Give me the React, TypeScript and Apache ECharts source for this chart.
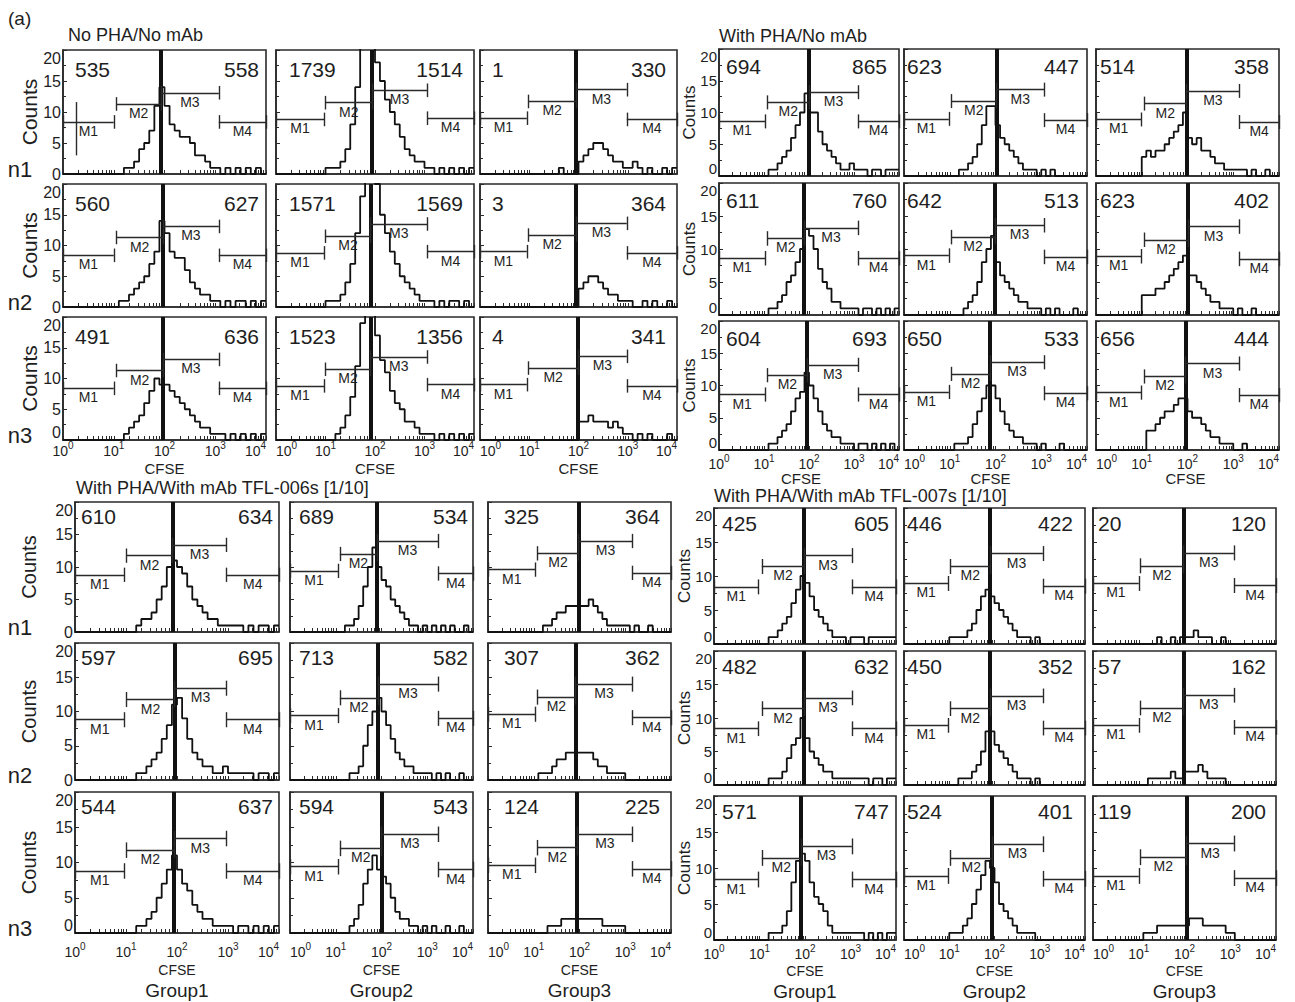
import React, { useEffect, useRef } from 'react';
import * as echarts from 'echarts';

// ---------- DATA (counts per 0.1-decade CFSE bin, 10^0 .. 10^4) ----------
const TL_G1_N1 = [0,0,0,0,0,0,0,0,0,0, 0,0,1,1,2,4,5,7,11,14, 11,8,7,6,6,5,3,3,2,1, 1,0,1,0,1,0,1,0,1,0];
const TL_G1_N2 = [0,0,0,0,0,0,0,0,0,0, 0,1,1,2,3,4,5,7,9,14, 12,9,8,8,6,4,3,2,2,1, 1,0,1,0,1,1,0,1,0,1];
const TL_G1_N3 = [0,0,0,0,0,0,0,0,0,0, 0,0,1,2,3,4,6,8,10,9, 9,8,7,6,5,4,3,2,2,1, 1,1,0,1,0,1,0,1,0,1];
const TL_G2_N1 = [0,0,0,0,0,0,0,0,0,0, 1,1,1,2,4,8,14,22,24,24, 18,15,12,10,8,6,4,3,2,2, 1,1,0,1,0,1,0,1,0,1];
const TL_G2_N2 = [0,0,0,0,0,0,0,0,0,0, 1,1,1,2,4,7,12,18,22,22, 20,15,12,9,7,5,4,3,2,1, 1,1,0,1,0,1,1,0,1,0];
const TL_G2_N3 = [0,0,0,0,0,0,0,0,0,0, 0,0,1,2,4,7,12,19,22,22, 17,13,11,8,6,5,3,3,2,1, 1,1,0,1,0,1,0,1,0,1];
const TL_G3_N1 = [0,0,0,0,0,0,0,0,0,0, 0,0,0,0,0,0,1,0,0,0, 2,3,4,5,5,4,3,2,2,1, 1,2,1,0,1,0,0,1,0,1];
const TL_G3_N2 = [0,0,0,0,0,0,0,0,0,0, 0,0,0,0,0,0,0,0,0,0, 3,4,5,5,4,3,2,2,1,1, 1,0,0,1,0,1,0,0,1,0];
const TL_G3_N3 = [0,0,0,0,0,0,0,0,0,0, 0,0,0,0,0,0,0,0,0,0, 3,3,4,3,3,3,2,3,2,1, 1,0,1,0,1,0,0,0,1,0];

const TR_G1_N1 = [0,0,0,0,0,0,0,0,0,0, 0,1,1,2,3,4,6,8,10,13, 10,10,7,5,4,3,2,1,1,2, 1,1,1,0,1,1,0,1,1,1];
const TR_G1_N2 = [0,0,0,0,0,0,0,0,0,0, 0,1,1,2,3,5,6,8,10,13, 12,10,7,5,4,2,2,1,1,1, 1,0,1,1,0,1,0,1,0,1];
const TR_G1_N3 = [0,0,0,0,0,0,0,0,0,0, 0,1,1,2,3,4,6,8,9,12, 10,8,6,4,3,2,2,1,1,1, 0,1,1,0,1,0,1,0,1,0];
const TR_G2_N1 = [0,0,0,0,0,0,0,0,0,0, 0,0,1,1,2,3,5,8,11,11, 8,6,5,4,3,2,1,1,1,0, 1,0,1,0,0,0,0,0,0,0];
const TR_G2_N2 = [0,0,0,0,0,0,0,0,0,0, 0,0,0,1,2,3,5,8,10,12, 8,6,5,4,3,2,2,1,1,1, 0,1,0,1,0,0,0,1,0,0];
const TR_G2_N3 = [0,0,0,0,0,0,0,0,0,0, 0,1,1,1,2,4,6,8,10,10, 8,6,4,3,2,2,1,1,1,0, 1,0,0,0,1,0,0,0,0,0];
const TR_G3_N1 = [0,0,0,0,0,0,0,0,0,0, 3,4,3,4,4,5,6,7,8,10, 6,5,6,4,4,3,2,2,1,1, 1,1,1,0,1,0,0,1,0,0];
const TR_G3_N2 = [0,0,0,0,0,0,0,0,0,0, 3,3,3,4,4,5,6,7,8,9, 6,6,5,4,3,2,2,1,1,1, 0,1,0,0,1,0,0,0,0,0];
const TR_G3_N3 = [0,0,0,0,0,0,0,0,0,0, 0,3,3,4,5,6,6,7,8,8, 6,5,5,4,3,2,2,1,1,1, 0,0,1,0,0,0,0,0,0,0];

const BL_G1_N1 = [0,0,0,0,0,0,0,0,0,0, 0,0,1,2,2,3,5,7,10,11, 10,9,7,5,4,3,2,2,1,1, 1,1,1,0,1,0,1,1,0,1];
const BL_G1_N2 = [0,0,0,0,0,0,0,0,0,0, 0,0,1,1,2,3,4,6,8,11, 12,9,6,4,3,2,2,1,1,2, 1,1,1,1,1,0,1,1,0,1];
const BL_G1_N3 = [0,0,0,0,0,0,0,0,0,0, 0,0,1,1,2,3,5,7,9,11, 9,7,6,4,3,2,2,1,1,1, 1,0,1,1,0,1,0,1,0,1];
const BL_G2_N1 = [0,0,0,0,0,0,0,0,0,0, 0,0,1,1,2,4,7,10,13,10, 8,7,5,4,3,2,1,1,0,1, 0,1,0,1,0,1,0,0,1,0];
const BL_G2_N2 = [0,0,0,0,0,0,0,0,0,0, 0,0,0,1,1,2,5,8,10,12, 10,8,6,4,3,2,2,1,1,1, 1,0,1,0,1,0,0,1,0,0];
const BL_G2_N3 = [0,0,0,0,0,0,0,0,0,0, 0,0,0,1,2,4,7,9,11,9, 8,7,5,3,2,2,1,1,0,1, 0,1,0,0,1,0,0,1,0,0];
const BL_G3_N1 = [0,0,0,0,0,0,0,0,0,0, 0,0,1,1,2,3,3,4,4,4, 4,4,5,4,3,2,1,1,1,1, 1,0,1,0,0,1,0,0,0,0];
const BL_G3_N2 = [0,0,0,0,0,0,0,0,0,0, 0,1,1,1,2,3,3,4,4,4, 4,4,4,3,2,2,1,1,1,1, 0,0,0,0,0,0,0,0,0,0];
const BL_G3_N3 = [0,0,0,0,0,0,0,0,0,0, 0,0,0,1,1,1,2,2,2,2, 2,2,2,2,2,1,1,1,1,1, 0,0,0,0,0,0,0,0,0,0];

const BR_G1_N1 = [0,0,0,0,0,0,0,0,0,0, 0,0,1,1,2,3,4,6,8,10, 9,7,5,4,3,2,1,1,1,0, 1,1,1,0,1,1,1,1,1,1];
const BR_G1_N2 = [0,0,0,0,0,0,0,0,0,0, 0,0,1,1,1,2,4,6,7,10, 7,5,4,3,2,2,1,1,1,1, 1,1,1,1,0,1,1,0,1,1];
const BR_G1_N3 = [0,0,0,0,0,0,0,0,0,0, 0,0,1,1,1,2,4,8,11,12, 11,8,6,5,4,2,1,1,1,1, 1,1,1,0,1,0,1,0,1,1];
const BR_G2_N1 = [0,0,0,0,0,0,0,0,0,0, 1,1,1,1,2,3,5,7,8,7, 6,5,4,3,2,1,1,1,0,1, 0,0,0,0,0,0,0,0,0,0];
const BR_G2_N2 = [0,0,0,0,0,0,0,0,0,0, 0,0,1,1,1,2,3,5,8,8, 6,5,4,3,2,1,1,1,0,1, 0,0,0,0,0,0,0,0,0,0];
const BR_G2_N3 = [0,0,0,0,0,0,0,0,0,0, 1,1,1,2,3,5,7,9,11,10, 8,5,4,3,2,1,1,1,1,0, 0,0,0,0,0,0,0,0,0,0];
const BR_G3_N1 = [0,0,0,0,0,0,0,0,0,0, 0,0,0,0,1,0,0,1,0,1, 1,1,2,1,1,1,0,0,1,0, 0,0,0,0,0,0,0,0,0,0];
const BR_G3_N2 = [0,0,0,0,0,0,0,0,0,0, 0,0,1,1,1,1,1,2,1,1, 2,2,2,3,2,1,1,1,1,0, 0,0,0,0,0,0,0,0,0,0];
const BR_G3_N3 = [0,0,0,0,0,0,0,0,0,0, 0,1,1,1,2,2,2,2,2,2, 2,3,3,3,2,2,2,2,2,1, 1,0,0,0,0,0,0,0,0,0];

// Gate (thick vertical line) position, log10 CFSE, [col][row]
const GATES_TL = [[1.93, 1.97, 1.97], [1.94, 1.91, 1.91], [1.95, 1.95, 1.99]];
const GATES_TR = [[2.0, 1.89, 1.96], [2.02, 1.99, 1.88], [1.98, 2.01, 1.96]];
const GATES_BL = [[1.91, 1.95, 1.94], [1.90, 1.92, 2.0], [1.98, 1.91, 1.95]];
const GATES_BR = [[1.98, 1.98, 1.91], [1.90, 1.90, 1.94], [1.98, 1.98, 2.04]];

// Counts printed in each panel: [left, right], [col][row]
const NUMS_TL = [[[535, 558], [560, 627], [491, 636]], [[1739, 1514], [1571, 1569], [1523, 1356]], [[1, 330], [3, 364], [4, 341]]];
const NUMS_TR = [[[694, 865], [611, 760], [604, 693]], [[623, 447], [642, 513], [650, 533]], [[514, 358], [623, 402], [656, 444]]];
const NUMS_BL = [[[610, 634], [597, 695], [544, 637]], [[689, 534], [713, 582], [594, 543]], [[325, 364], [307, 362], [124, 225]]];
const NUMS_BR = [[[425, 605], [482, 632], [571, 747]], [[446, 422], [450, 352], [524, 401]], [[20, 120], [57, 162], [119, 200]]];

// Marker brackets per column: [M1 end, M1 level, M2 start, M2 level, M3 end, M3 level, M4 start, M4 level]
const MARKERS_TL = [[1.0, 8.4, 1.05, 11.3, 3.07, 13.1, 3.07, 8.4], [0.97, 8.8, 1.0, 11.5, 3.05, 13.5, 3.05, 9.0], [0.95, 9.0, 0.98, 11.7, 2.98, 13.6, 2.98, 8.8]];
const MARKERS_TR = [[1.03, 8.6, 1.08, 11.6, 3.09, 13.2, 3.09, 8.6], [0.98, 9.0, 1.03, 11.8, 3.06, 13.6, 3.06, 8.8], [0.99, 8.9, 1.05, 11.4, 3.13, 13.4, 3.13, 8.5]];
const MARKERS_BL = [[0.97, 8.8, 1.01, 11.75, 2.97, 13.4, 2.97, 8.8], [1.05, 9.4, 1.09, 12.0, 3.24, 14.0, 3.24, 9.0], [1.04, 9.6, 1.08, 12.1, 3.16, 14.0, 3.16, 9.1]];
const MARKERS_BR = [[0.98, 8.4, 1.05, 11.4, 3.03, 13.0, 3.03, 8.4], [0.98, 8.9, 1.03, 11.4, 3.07, 13.3, 3.07, 8.5], [1.0, 8.9, 1.03, 11.5, 3.08, 13.4, 3.08, 8.6]];

// stray cursor line in first panel: [x, yFrom, yTo]
const EXTRA_TL_G1_N1 = [0.26, 3.0, 11.6];

const TITLES = ['No PHA/No mAb', 'With PHA/No mAb', 'With PHA/With mAb TFL-006s [1/10]', 'With PHA/With mAb TFL-007s [1/10]'];
const GROUPS = ['Group1', 'Group2', 'Group3'];
const ROW_NAMES = ['n1', 'n2', 'n3'];
const X_DECADES = [0, 1, 2, 3, 4];
const Y_TICKS = [0, 5, 10, 15, 20];

const HIST = [
  [[TL_G1_N1, TL_G1_N2, TL_G1_N3], [TL_G2_N1, TL_G2_N2, TL_G2_N3], [TL_G3_N1, TL_G3_N2, TL_G3_N3]],
  [[TR_G1_N1, TR_G1_N2, TR_G1_N3], [TR_G2_N1, TR_G2_N2, TR_G2_N3], [TR_G3_N1, TR_G3_N2, TR_G3_N3]],
  [[BL_G1_N1, BL_G1_N2, BL_G1_N3], [BL_G2_N1, BL_G2_N2, BL_G2_N3], [BL_G3_N1, BL_G3_N2, BL_G3_N3]],
  [[BR_G1_N1, BR_G1_N2, BR_G1_N3], [BR_G2_N1, BR_G2_N2, BR_G2_N3], [BR_G3_N1, BR_G3_N2, BR_G3_N3]],
];
const GATES = [GATES_TL, GATES_TR, GATES_BL, GATES_BR];
const NUMS = [NUMS_TL, NUMS_TR, NUMS_BL, NUMS_BR];
const MARKERS = [MARKERS_TL, MARKERS_TR, MARKERS_BL, MARKERS_BR];

// ---------- LAYOUT ----------
const FONT = '"Liberation Sans", Arial, Helvetica, sans-serif';
const INK = '#1e1e1e';

const LAYOUT = [
  { cols: [[63, 266], [276, 474], [480, 677]], rows: [[50, 174], [184, 307], [317, 440]], title: [68, 35], countsX: 29, countsSize: 21, yLabSize: 16, tight: false, showN: true, numDy: 19, padL: [12, 13, 12], padR: [7, 11, 11], xMargin: 0, cfseY: 468, cfseSize: 15, cfseDx: [0, 0, 0], groupY: 0 },
  { cols: [[719, 899], [904, 1087], [1096, 1279]], rows: [[49, 176], [183, 315], [321, 450]], title: [719, 36], countsX: 689, countsSize: 17, yLabSize: 15, tight: true, showN: false, numDy: 17, padL: [7, 3, 4], padR: [12, 8, 10], xMargin: 3, cfseY: 478, cfseSize: 15, cfseDx: [-8, -5, -2], groupY: 0 },
  { cols: [[75, 279], [290, 473], [488, 671]], rows: [[502, 632], [643, 780], [792, 933]], title: [76, 488], countsX: 29, countsSize: 20, yLabSize: 16, tight: false, showN: true, numDy: 14, padL: [6, 9, 16], padR: [6, 5, 11], xMargin: 8, cfseY: 970, cfseSize: 14, cfseDx: [0, 0, 0], groupY: 990 },
  { cols: [[714, 896], [904, 1085], [1093, 1276]], rows: [[508, 644], [651, 785], [796, 940]], title: [714, 496], countsX: 684, countsSize: 17, yLabSize: 15, tight: true, showN: false, numDy: 15, padL: [8, 3, 5], padR: [7, 12, 10], xMargin: 3, cfseY: 971, cfseSize: 14, cfseDx: [0, 0, 0], groupY: 991 },
];

const X_MINOR: number[] = [];
for (let d = 0; d < 4; d++) for (let k = 1; k <= 9; k++) X_MINOR.push(d + Math.log10(k));
X_MINOR.push(4);

function stepPoints(vals: number[]) {
  const pts: number[][] = vals.map((v, i) => [i / 10, v]);
  pts.push([vals.length / 10, vals[vals.length - 1]]);
  return pts;
}

function bracket(x0: number, x1: number, y: number, name: string) {
  const lab = { show: true, formatter: name, position: 'insideMiddleBottom', distance: 2, fontSize: 14, color: INK, fontFamily: FONT };
  const t = 1.1;
  return [
    [{ coord: [x0, y], label: lab }, { coord: [x1, y], label: lab }],
    [{ coord: [x0, y - t], label: { show: false } }, { coord: [x0, y + t] }],
    [{ coord: [x1, y - t], label: { show: false } }, { coord: [x1, y + t] }],
  ];
}

function buildOption() {
  const grids: any[] = [];
  const xAxes: any[] = [];
  const yAxes: any[] = [];
  const series: any[] = [];
  const graphics: any[] = [];

  graphics.push({ type: 'text', x: 8, y: 18, style: { text: '(a)', fontSize: 19, fontFamily: FONT, fill: INK, align: 'left', verticalAlign: 'middle' } });

  LAYOUT.forEach((L, q) => {
    graphics.push({ type: 'text', x: L.title[0], y: L.title[1], style: { text: TITLES[q], fontSize: 18, fontFamily: FONT, fill: INK, align: 'left', verticalAlign: 'middle' } });
    L.rows.forEach((R, r) => {
      const cy = (R[0] + R[1]) / 2;
      graphics.push({ type: 'text', x: L.countsX, y: cy, rotation: Math.PI / 2, style: { text: 'Counts', fontSize: L.countsSize, fontFamily: FONT, fill: INK, align: 'center', verticalAlign: 'middle' } });
      if (L.showN) {
        graphics.push({ type: 'text', x: 20, y: R[1] - 5, style: { text: ROW_NAMES[r], fontSize: 22, fontFamily: FONT, fill: INK, align: 'center', verticalAlign: 'middle' } });
      }
    });
    L.cols.forEach((C, c) => {
      const cx = (C[0] + C[1]) / 2 + L.cfseDx[c];
      graphics.push({ type: 'text', x: cx, y: L.cfseY, style: { text: 'CFSE', fontSize: L.cfseSize, fontFamily: FONT, fill: INK, align: 'center', verticalAlign: 'middle' } });
      if (L.groupY) {
        graphics.push({ type: 'text', x: (C[0] + C[1]) / 2, y: L.groupY, style: { text: GROUPS[c], fontSize: 19, fontFamily: FONT, fill: INK, align: 'center', verticalAlign: 'middle' } });
      }
      L.rows.forEach((R, r) => {
        const idx = grids.length;
        grids.push({ left: C[0], top: R[0], width: C[1] - C[0], height: R[1] - R[0], show: true, borderColor: '#2a2a2a', borderWidth: 1.6, backgroundColor: 'transparent', containLabel: false });
        const xLab: any = {
          show: r === 2, margin: L.xMargin, customValues: X_DECADES,
          alignMaxLabel: 'right',
          formatter: (v: number) => `{b|10}{s|${Math.round(v)}}`,
          rich: {
            b: { fontSize: 14, fontFamily: FONT, color: INK, lineHeight: 18, verticalAlign: 'bottom' },
            s: { fontSize: 10, fontFamily: FONT, color: INK, lineHeight: 10, verticalAlign: 'top' },
          },
        };
        if (c > 0) xLab.alignMinLabel = 'left';
        xAxes.push({
          gridIndex: idx, type: 'value', min: 0, max: 4, interval: 1,
          axisLine: { show: true, onZero: false, lineStyle: { color: '#2a2a2a', width: 1.6 } },
          axisTick: { show: true, inside: true, length: 4, customValues: X_MINOR, lineStyle: { color: '#2a2a2a', width: 1 } },
          axisLabel: xLab,
          splitLine: { show: false },
        });
        const yLab: any = { show: c === 0, fontSize: L.yLabSize, margin: 2, color: INK, fontFamily: FONT, verticalAlignMaxLabel: 'top' };
        if (r === 2 || L.tight) yLab.verticalAlignMinLabel = 'bottom';
        yAxes.push({
          gridIndex: idx, type: 'value', min: 0, max: 20, interval: 5,
          axisLine: { show: true, onZero: false, lineStyle: { color: '#2a2a2a', width: 1.6 } },
          axisTick: { show: true, inside: true, length: 4, customValues: Y_TICKS, lineStyle: { color: '#2a2a2a', width: 1 } },
          minorTick: { show: true, splitNumber: 2, length: 3, lineStyle: { color: '#2a2a2a', width: 1 } },
          axisLabel: yLab,
          splitLine: { show: false },
        });

        const mk = MARKERS[q][c];
        const gate = GATES[q][c][r];
        const mlData: any[] = [
          { xAxis: gate, lineStyle: { width: 4, color: '#111' }, label: { show: false } },
          ...bracket(0, mk[0], mk[1], 'M1'),
          ...bracket(mk[2], gate, mk[3], 'M2'),
          ...bracket(gate, mk[4], mk[5], 'M3'),
          ...bracket(mk[6], 4, mk[7], 'M4'),
        ];
        if (q === 0 && c === 0 && r === 0) {
          mlData.push([{ coord: [EXTRA_TL_G1_N1[0], EXTRA_TL_G1_N1[1]], label: { show: false } }, { coord: [EXTRA_TL_G1_N1[0], EXTRA_TL_G1_N1[2]] }]);
        }

        series.push({
          type: 'line', xAxisIndex: idx, yAxisIndex: idx,
          step: 'end', showSymbol: false, symbol: 'none', clip: true,
          lineStyle: { color: '#111', width: 1.8 },
          data: stepPoints(HIST[q][c][r]),
          markLine: {
            silent: true, symbol: ['none', 'none'], animation: false, precision: 3,
            lineStyle: { color: '#2a2a2a', width: 1.4, type: 'solid' },
            label: { show: false },
            data: mlData,
          },
        });

        const nums = NUMS[q][c][r];
        graphics.push({ type: 'text', x: C[0] + L.padL[c], y: R[0] + L.numDy, style: { text: String(nums[0]), fontSize: 21, fontFamily: FONT, fill: INK, align: 'left', verticalAlign: 'middle' } });
        graphics.push({ type: 'text', x: C[1] - L.padR[c], y: R[0] + L.numDy, style: { text: String(nums[1]), fontSize: 21, fontFamily: FONT, fill: INK, align: 'right', verticalAlign: 'middle' } });
      });
    });
  });

  return {
    animation: false,
    backgroundColor: '#ffffff',
    grid: grids,
    xAxis: xAxes,
    yAxis: yAxes,
    series,
    graphic: graphics,
  };
}

export default function App() {
  const ref = useRef<HTMLDivElement>(null);
  useEffect(() => {
    if (!ref.current) return;
    const chart = echarts.init(ref.current, undefined, { renderer: 'svg' });
    chart.setOption(buildOption() as any);
    return () => chart.dispose();
  }, []);
  return <div ref={ref} style={{ position: 'absolute', left: 0, top: 0, width: 1295, height: 1002, background: '#fff' }} />;
}
